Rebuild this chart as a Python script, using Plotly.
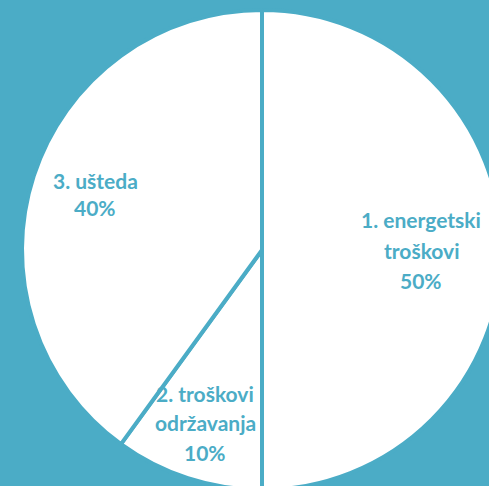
import plotly.graph_objects as go

categories = ["1. energetski troškovi", "2. troškovi održavanja", "3. ušteda"]
values = [50, 10, 40]
label_lines = [["1. energetski", "troškovi", "50%"],
               ["2. troškovi", "održavanja", "10%"],
               ["3. ušteda", "40%"]]

TEAL = "#4BACC6"
W, H = 524, 500

fig = go.Figure(go.Pie(
    labels=categories,
    values=values,
    sort=False,
    direction="clockwise",
    rotation=0,
    marker=dict(colors=["white"] * 3, line=dict(color=TEAL, width=4)),
    textinfo="none",
    hoverinfo="label+percent",
    domain=dict(x=[0, 1], y=[0.02, 0.98]),
    showlegend=False,
))

# label anchor positions (pixel centres of each line block)
anchors = [(421, 220, 30), (205, 393, 29.5), (95, 180, 28)]
for lines, (cx, cy, step) in zip(label_lines, anchors):
    for i, t in enumerate(lines):
        fig.add_annotation(
            x=cx / W, y=1 - (cy + i * step) / H, xref="paper", yref="paper",
            text=t, showarrow=False, xanchor="center", yanchor="middle",
            font=dict(family="Lato", size=21, color=TEAL, weight="bold"),
        )

fig.update_layout(
    width=W, height=H,
    margin=dict(l=0, r=0, t=0, b=0),
    paper_bgcolor=TEAL, plot_bgcolor=TEAL,
)

fig.write_html(
    "out.html",
    config={"displayModeBar": False},
    post_script="document.body.style.margin='0';document.body.style.overflow='hidden';document.documentElement.style.overflow='hidden';",
)
